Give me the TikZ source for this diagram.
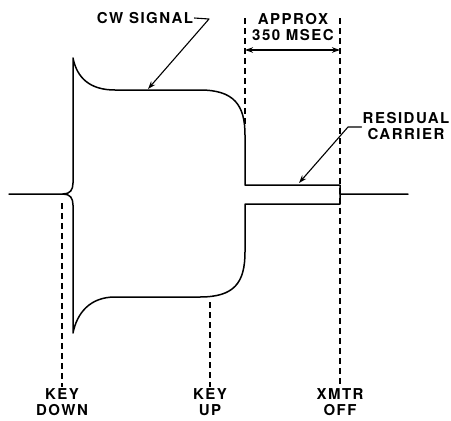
\documentclass[tikz,border=0pt]{standalone}
\usepackage{fontspec}
\setmainfont{TeX Gyre Heros}[LetterSpace=10]
\usetikzlibrary{arrows.meta,calc}

\begin{document}
\begin{tikzpicture}[x=1pt, y=-1pt, >={Stealth[length=8pt,width=5.5pt]}, line cap=round, line join=round,
    wave/.style={line width=1.5pt},
    guide/.style={line width=1.1pt, dash pattern=on 6pt off 4pt, line cap=butt},
    lbl/.style={font=\fontsize{15}{16.5}\selectfont\bfseries, align=center, inner sep=1pt},
    lead/.style={line width=1.1pt}]
    \useasboundingbox (0,0) rectangle (451,421);

    \coordinate (inL) at (9,194);
    \coordinate (kd) at (63,194);
    \coordinate (spkT) at (73,58);
    \coordinate (spkB) at (73,333);
    \coordinate (offT) at (340,185);
    \coordinate (offB) at (340,204);
    \coordinate (out) at (408,194);

    % envelope
    \draw[wave] (inL) -- (kd) .. controls (70,194) and (73,190) .. (73,183) -- (spkT)
        .. controls (77,78) and (90,90) .. (115,90) -- (200,90)
        .. controls (234,90) and (245,105) .. (245,135) -- (245,185) -- (offT) -- (340,194) -- (out);
    \draw[wave] (kd) .. controls (70,194) and (73,198) .. (73,205) -- (spkB)
        .. controls (77,313) and (90,297) .. (115,297) -- (200,297)
        .. controls (234,297) and (245,283) .. (245,252) -- (245,204) -- (offB) -- (340,194);

    % labels
    \node[lbl] (cw) at (145,18) {CW SIGNAL};
    \node[lbl] (ap) at (293,27) {APPROX\\350 MSEC};
    \node[lbl] (rc) at (406,126) {RESIDUAL\\CARRIER};
    \node[lbl, anchor=north] (kdn) at (62,387) {KEY\\DOWN};
    \node[lbl, anchor=north] (kup) at (210,387) {KEY\\UP};
    \node[lbl, anchor=north] (xoff) at (340,387) {XMTR\\OFF};

    % markers
    \draw[guide] (62,203) -- (kdn.north);
    \draw[guide] (210,302) -- (kup.north);
    \draw[guide] (245,18) -- (245,124);
    \draw[guide] (340,18) -- (xoff.north);
    \draw[lead, <->] (245,50) -- (340,50);

    % leaders
    \draw[lead, ->] (cw.east) -- (209,19) -- (148,89);
    \draw[lead, ->] (rc.west |- 0,127) -- (348,127) -- (299,183);
\end{tikzpicture}
\end{document}
